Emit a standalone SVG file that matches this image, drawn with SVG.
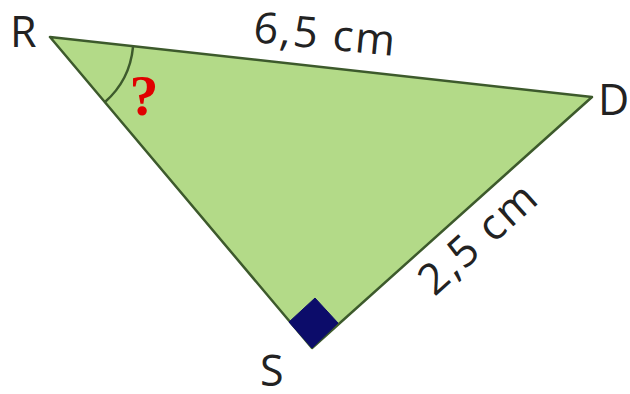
<svg xmlns="http://www.w3.org/2000/svg" width="630" height="394" viewBox="0 0 630 394">
<style>
.lbl{font-family:"Open Sans","DejaVu Sans",sans-serif;font-size:43px;fill:#222}
.edge{fill:#b3da88;stroke:#3d5a2c;stroke-width:2.5;stroke-linejoin:round}
</style>
<rect width="630" height="394" fill="#fff"/>
<g id="triangle">
<polygon class="edge" points="50,37 592,97 312,348"/>
</g>
<g id="connectors">
<path d="M133,47 A84,84 0 0 1 105,102" fill="none" stroke="#3d5a2c" stroke-width="2.5"/>
<polygon points="312,348 289,322 315,298 338,323" fill="#0c0c6a" stroke="#0c0c6a" stroke-width="1"/>
</g>
<g id="R"><text class="lbl" x="10" y="47">R</text></g>
<g id="D"><text class="lbl" x="598" y="115">D</text></g>
<g id="S"><text class="lbl" x="260" y="386">S</text></g>
<g id="labels">
<text class="lbl" x="324" y="49" text-anchor="middle" letter-spacing="2" transform="rotate(5.5 324 49)">6,5 cm</text>
<text class="lbl" x="488" y="249" text-anchor="middle" letter-spacing="2" transform="rotate(-42 488 249)">2,5 cm</text>
<text x="144" y="115" text-anchor="middle" font-family="'Liberation Serif',serif" font-weight="bold" font-size="58" fill="#e00000">?</text>
</g>
</svg>
